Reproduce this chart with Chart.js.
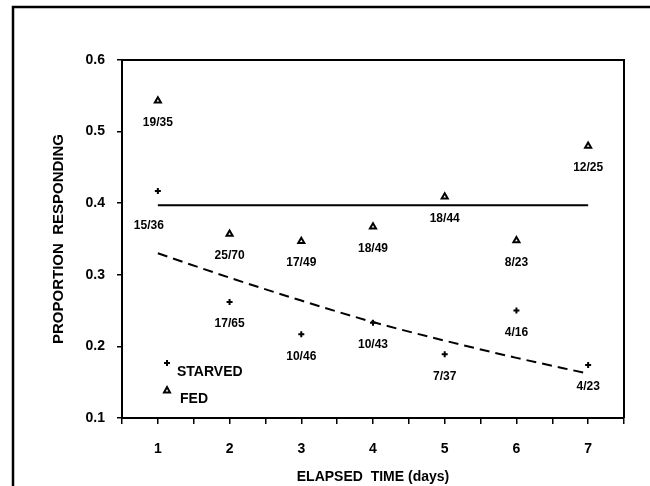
<!DOCTYPE html>
<html>
<head>
<meta charset="utf-8">
<script src="https://cdn.jsdelivr.net/npm/chart.js@4.4.1/dist/chart.umd.min.js"></script>
<style>
    html, body { margin: 0; padding: 0; background: #fff; }
    canvas { display: block; }
</style>
</head>
<body>
<canvas id="respChart" width="650" height="486"></canvas>
<script>
// Data
const days = [1, 2, 3, 4, 5, 6, 7];
const fedValues = [0.543, 0.357, 0.347, 0.367, 0.409, 0.348, 0.480];
const fedLabels = ['19/35', '25/70', '17/49', '18/49', '18/44', '8/23', '12/25'];
const starvedValues = [0.417, 0.262, 0.217, 0.233, 0.189, 0.250, 0.174];
const starvedLabels = ['15/36', '17/65', '10/46', '10/43', '7/37', '4/16', '4/23'];
// overall FED level (solid line) and STARVED fit (dashed curve)
const fedMeanDays = [1, 7];
const fedMeanValues = [0.397, 0.397];
const starvedFitValues = [0.330, 0.296, 0.264, 0.234, 0.208, 0.184, 0.162];
const xTickLabels = ['1', '2', '3', '4', '5', '6', '7'];
const yTickLabels = ['0.1', '0.2', '0.3', '0.4', '0.5', '0.6'];

const FONT = "'Liberation Sans', Arial, Helvetica, sans-serif";

function toPoints(xs, ys) {
    return xs.map((x, i) => ({ x: x, y: ys[i] }));
}

// label shifted away from the solid line
const labelShift = { '15/36': [-9, 35] };

const fractionLabels = {
    id: 'fractionLabels',
    afterDatasetsDraw(chart) {
        const ctx = chart.ctx;
        ctx.save();
        ctx.font = 'bold 12px ' + FONT;
        ctx.fillStyle = '#000';
        ctx.textAlign = 'center';
        ctx.textBaseline = 'middle';
        chart.data.datasets.forEach((ds, i) => {
            if (!ds.pointLabels) return;
            chart.getDatasetMeta(i).data.forEach((el, j) => {
                const txt = ds.pointLabels[j];
                const shift = labelShift[txt] || [0, 22];
                ctx.fillText(txt, el.x + shift[0], el.y + shift[1]);
            });
        });
        ctx.restore();
    }
};

const frames = {
    id: 'frames',
    afterDraw(chart) {
        const ctx = chart.ctx;
        const a = chart.chartArea;
        ctx.save();
        ctx.strokeStyle = '#000';
        // plot box top and right
        ctx.lineWidth = 2;
        ctx.beginPath();
        ctx.moveTo(a.left, a.top);
        ctx.lineTo(a.right, a.top);
        ctx.lineTo(a.right, a.bottom);
        ctx.stroke();
        // outer figure frame
        ctx.lineWidth = 2.5;
        ctx.beginPath();
        ctx.moveTo(13, chart.height);
        ctx.lineTo(13, 7);
        ctx.lineTo(chart.width, 7);
        ctx.stroke();

        // key in the lower left
        const kx = a.left + 45;
        ctx.lineWidth = 2;
        ctx.beginPath();
        ctx.moveTo(kx - 3, 363);
        ctx.lineTo(kx + 3, 363);
        ctx.moveTo(kx, 360);
        ctx.lineTo(kx, 366);
        ctx.stroke();
        ctx.beginPath();
        ctx.moveTo(kx, 387);
        ctx.lineTo(kx + 3, 392.5);
        ctx.lineTo(kx - 3, 392.5);
        ctx.closePath();
        ctx.stroke();
        ctx.font = 'bold 14px ' + FONT;
        ctx.fillStyle = '#000';
        ctx.textBaseline = 'middle';
        ctx.fillText('STARVED', kx + 10, 372);
        ctx.fillText('FED', kx + 13, 399);
        ctx.restore();
    }
};

document.addEventListener('DOMContentLoaded', function() {
    const ctx = document.getElementById('respChart').getContext('2d');
    new Chart(ctx, {
        type: 'scatter',
        data: {
            datasets: [
                {
                    label: 'STARVED',
                    data: toPoints(days, starvedValues),
                    pointLabels: starvedLabels,
                    pointStyle: 'cross',
                    pointRadius: 3,
                    borderColor: '#000',
                    borderWidth: 2,
                    showLine: false
                },
                {
                    label: 'FED',
                    data: toPoints(days, fedValues),
                    pointLabels: fedLabels,
                    pointStyle: 'triangle',
                    pointRadius: 3.5,
                    borderColor: '#000',
                    backgroundColor: '#fff',
                    borderWidth: 2,
                    showLine: false
                },
                {
                    label: 'FED level',
                    type: 'line',
                    data: toPoints(fedMeanDays, fedMeanValues),
                    borderColor: '#000',
                    borderWidth: 2,
                    pointRadius: 0,
                    fill: false
                },
                {
                    label: 'STARVED fit',
                    type: 'line',
                    data: toPoints(days, starvedFitValues),
                    borderColor: '#000',
                    borderWidth: 2,
                    borderDash: [10, 6],
                    cubicInterpolationMode: 'monotone',
                    pointRadius: 0,
                    fill: false
                }
            ]
        },
        options: {
            responsive: false,
            animation: false,
            devicePixelRatio: 1,
            layout: { padding: { left: 0, top: 60, right: 26, bottom: 0 } },
            plugins: {
                legend: { display: false },
                tooltip: { enabled: false }
            },
            scales: {
                x: {
                    type: 'linear',
                    min: 0.5,
                    max: 7.5,
                    afterFit: s => { s.height = 68; },
                    border: { display: true, color: '#000', width: 2 },
                    grid: { drawOnChartArea: false, drawTicks: true, tickLength: 6, color: '#000', lineWidth: 1.5 },
                    ticks: {
                        stepSize: 0.5,
                        autoSkip: false,
                        maxRotation: 0,
                        padding: 17,
                        color: '#000',
                        font: { family: FONT, size: 14, weight: 'bold' },
                        callback: v => Number.isInteger(v) ? xTickLabels[v - 1] : ''
                    },
                    title: {
                        display: true,
                        text: 'ELAPSED  TIME (days)',
                        color: '#000',
                        font: { family: FONT, size: 14, weight: 'bold' },
                        padding: { top: 0, bottom: 0 }
                    }
                },
                y: {
                    min: 0.1,
                    max: 0.6,
                    afterFit: s => { s.width = 122; },
                    border: { display: true, color: '#000', width: 2 },
                    grid: { drawOnChartArea: false, drawTicks: true, tickLength: 5, color: '#000', lineWidth: 1.5 },
                    ticks: {
                        stepSize: 0.1,
                        padding: 12,
                        color: '#000',
                        font: { family: FONT, size: 14, weight: 'bold' },
                        callback: v => yTickLabels[Math.round(v * 10) - 1]
                    },
                    title: {
                        display: true,
                        text: 'PROPORTION  RESPONDING',
                        color: '#000',
                        font: { family: FONT, size: 15, weight: 'bold' },
                        padding: { top: 50, bottom: 0 }
                    }
                }
            }
        },
        plugins: [fractionLabels, frames]
    });
});
</script>
</body>
</html>
